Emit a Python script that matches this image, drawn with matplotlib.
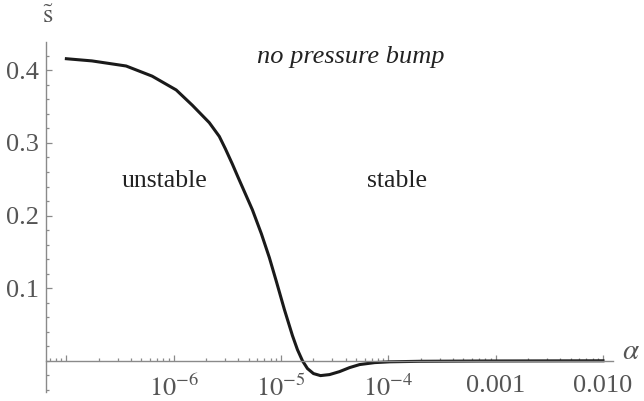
import numpy as np
import matplotlib
matplotlib.use('Agg')
import matplotlib.pyplot as plt
from matplotlib.ticker import FixedLocator, LogLocator, MultipleLocator, NullFormatter

plt.rcParams['font.family'] = ['Liberation Serif', 'DejaVu Serif']
plt.rcParams['mathtext.fontset'] = 'stix'

# curve
alpha = [1.0e-7, 1.73e-7, 3.60e-7, 6.30e-7, 1.055e-6, 1.49e-6, 2.145e-6, 2.66e-6, 3.03e-6,
         3.52e-6, 4.00e-6, 5.41e-6, 6.56e-6, 7.79e-6, 9.06e-6, 1.076e-5, 1.278e-5, 1.422e-5,
         1.585e-5, 1.764e-5, 2.007e-5, 2.333e-5, 2.83e-5, 3.51e-5, 4.35e-5, 5.40e-5,
         7.45e-5, 1.028e-4, 1.96e-4, 7.12e-4, 1.0e-2]
s_tilde = [0.416, 0.413, 0.406, 0.392, 0.373, 0.352, 0.328, 0.309, 0.292,
           0.271, 0.252, 0.208, 0.175, 0.142, 0.109, 0.0704, 0.0347, 0.0154,
           0.0, -0.0107, -0.0176, -0.0204, -0.019, -0.0149, -0.0094, -0.0052,
           -0.0025, -0.0014, -0.0007, -0.0003, 0.0]

xticks = [1e-7, 1e-6, 1e-5, 1e-4, 1e-3, 1e-2]
xticklabels = ['', r'$10^{-6}$', r'$10^{-5}$', r'$10^{-4}$', '0.001', '0.010']
yticks = [0.1, 0.2, 0.3, 0.4]
yticklabels = ['0.1', '0.2', '0.3', '0.4']

axcol = '#8a8a8a'
labcol = '#555555'

fig = plt.figure(figsize=(6.44, 4.01), dpi=100)
ax = fig.add_axes([0.0714, 0.0224, 0.8804, 0.8728])
ax.plot(alpha, s_tilde, color='#1a1a1a', lw=2.2, solid_joinstyle='round')

ax.set_xscale('log')
ax.set_xlim(10**-7.19, 10**-1.907)
ax.set_ylim(-0.043, 0.439)

for side in ['top', 'right']:
    ax.spines[side].set_visible(False)
ax.spines['bottom'].set_position(('data', 0))
for side in ['bottom', 'left']:
    ax.spines[side].set_color(axcol)
    ax.spines[side].set_linewidth(1.0)

ax.xaxis.set_major_locator(FixedLocator(xticks))
ax.xaxis.set_minor_locator(LogLocator(base=10, subs=np.arange(2, 10)))
ax.xaxis.set_minor_formatter(NullFormatter())
ax.set_xticklabels(xticklabels)
ax.yaxis.set_major_locator(FixedLocator(yticks))
ax.yaxis.set_minor_locator(MultipleLocator(0.02))
ax.set_yticklabels(yticklabels)

ax.tick_params(which='both', direction='in', color=axcol, width=0.9)
ax.tick_params(which='major', length=4, labelsize=19, labelcolor=labcol)
ax.tick_params(which='minor', length=2.3)
ax.tick_params(axis='x', which='major', pad=10)
ax.tick_params(axis='y', which='major', pad=5)

ax.text(8.15e-7, 0.248, 'unstable', fontsize=18.5, color='#222222', ha='center', va='center')
ax.text(1.195e-4, 0.248, 'stable', fontsize=18.5, color='#222222', ha='center', va='center')
ax.text(4.45e-5, 0.418, 'no pressure bump', fontsize=19, style='italic', color='#222222',
        ha='center', va='center')

fig.text(48 / 644, 1 - 17 / 401, r'$\tilde{\mathrm{s}}$', fontsize=19, color=labcol,
         ha='center', va='center')
fig.text(631 / 644, 1 - 352 / 401, r'$\alpha$', fontsize=21, color=labcol,
         ha='center', va='center')

fig.savefig('out.png', dpi=100)
